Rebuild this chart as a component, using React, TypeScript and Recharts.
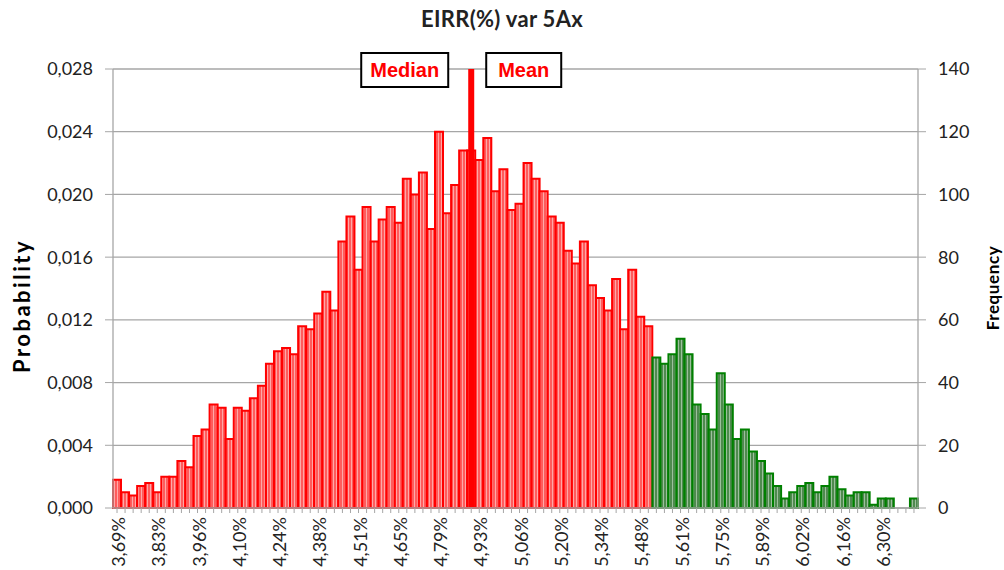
import React from 'react';
import { ComposedChart, Bar, Line, XAxis, YAxis, CartesianGrid, ReferenceLine, Cell } from 'recharts';

// Frequency per bin (100 bins, 5000 samples)
const counts: number[] = [
  9, 5, 4, 7, 8, 5, 10, 10, 15, 13, 23, 25, 33, 32, 22, 32, 31, 35, 39, 46, 50, 51, 49, 58,
  57, 62, 69, 63, 85, 93, 76, 96, 85, 92, 96, 91, 105, 100, 107, 89, 120, 94, 103, 114, 114, 111, 118,
  101, 108, 95, 97, 110, 105, 101, 93, 91, 82, 78, 85, 71, 67, 63, 73, 57, 76, 61, 58,
  48, 46, 49, 54,
  49, 33, 30, 25, 43, 33, 22, 25, 18, 15, 11, 7, 3, 5, 7, 8, 5, 7, 10, 6, 4, 5, 5, 1, 3, 3, 0, 0, 3,
];
const totalSamples = 5000;
// Tick labels shown every 5th bin
const tickLabels: string[] = [
  '3,69%', '3,83%', '3,96%', '4,10%', '4,24%', '4,38%', '4,51%', '4,65%', '4,79%', '4,93%',
  '5,06%', '5,20%', '5,34%', '5,48%', '5,61%', '5,75%', '5,89%', '6,02%', '6,16%', '6,30%',
];
const labelEvery = 5;
const greenFromBin = 67;
const medianMeanBin = 44;
const probTicks: number[] = [0, 0.004, 0.008, 0.012, 0.016, 0.02, 0.024, 0.028];
const freqTicks: number[] = [0, 20, 40, 60, 80, 100, 120, 140];

const data = counts.map((c, i) => ({ i, count: c, prob: c / totalSamples }));

const FONT = 'Lato, "Open Sans", sans-serif';
const BOX_FONT = '"Liberation Sans", Arial, sans-serif';

const XTick = (props: any) => {
  const { x, y, payload, index } = props;
  const idx = typeof index === 'number' ? index : payload.index;
  if (idx % labelEvery !== 0) return null;
  const label = tickLabels[idx / labelEvery];
  if (!label) return null;
  return (
    <g transform={`translate(${x + 1},${y + 2})`}>
      <text transform="rotate(-90)" textAnchor="end" dominantBaseline="central" fontSize={18} fill="#222" fontFamily={FONT}>
        {label}
      </text>
    </g>
  );
};

const MarkerLabels = (props: any) => {
  const vb = props.viewBox || {};
  const x = vb.x;
  const y = vb.y;
  if (x == null) return null;
  return (
    <g>
      <rect x={x - 110} y={y - 16} width={87} height={34} fill="#fff" stroke="#000" strokeWidth={2} />
      <text x={x - 66.5} y={y + 1} textAnchor="middle" dominantBaseline="central" fill="#ff0000" fontWeight="bold" fontSize={20} fontFamily={BOX_FONT}>
        Median
      </text>
      <rect x={x + 15} y={y - 16} width={75} height={34} fill="#fff" stroke="#000" strokeWidth={2} />
      <text x={x + 52.5} y={y + 1} textAnchor="middle" dominantBaseline="central" fill="#ff0000" fontWeight="bold" fontSize={20} fontFamily={BOX_FONT}>
        Mean
      </text>
    </g>
  );
};

export default function App() {
  return (
    <div style={{ position: 'absolute', left: 0, top: 0, width: 1004, height: 570, background: '#fff', fontFamily: FONT }}>
      <div style={{ position: 'absolute', left: 0, top: 5, width: 1004, textAlign: 'center', fontSize: 22, fontWeight: 'bold', color: '#222', letterSpacing: 0.3 }}>
        EIRR(%) var 5Ax
      </div>
      <div style={{ position: 'absolute', left: 22 - 100, top: 306 - 15, width: 200, height: 30, lineHeight: '30px', textAlign: 'center', transform: 'rotate(-90deg)', fontSize: 22, fontWeight: 'bold', color: '#000', letterSpacing: 2.5 }}>
        Probability
      </div>
      <div style={{ position: 'absolute', left: 993 - 100, top: 288 - 12, width: 200, height: 24, lineHeight: '24px', textAlign: 'center', transform: 'rotate(-90deg)', fontSize: 17, fontWeight: 'bold', color: '#000', letterSpacing: 0.6 }}>
        Frequency
      </div>
      <ComposedChart
        width={1004}
        height={570}
        data={data}
        margin={{ top: 69, right: 30, bottom: 0, left: 40 }}
        barCategoryGap={0}
        barGap={0}
      >
        <defs>
          <pattern id="redStripes" width="3" height="10" patternUnits="userSpaceOnUse">
            <rect width="3" height="10" fill="#ff5c5c" />
            <rect width="1" height="10" fill="#ffa8a8" />
          </pattern>
          <pattern id="greenStripes" width="3" height="10" patternUnits="userSpaceOnUse">
            <rect width="3" height="10" fill="#4f8a4f" />
            <rect width="1" height="10" fill="#9cc09c" />
          </pattern>
        </defs>
        <CartesianGrid vertical={false} stroke="#a6a6a6" strokeWidth={1.3} yAxisId="prob" />
        <XAxis
          dataKey="i"
          type="category"
          interval={0}
          height={62}
          tickSize={5}
          tickLine={{ stroke: '#a6a6a6' }}
          axisLine={{ stroke: '#a6a6a6', strokeWidth: 1.3 }}
          tick={<XTick />}
        />
        <YAxis
          yAxisId="prob"
          orientation="left"
          width={73}
          domain={[0, 0.028]}
          ticks={probTicks}
          interval={0}
          tickSize={8}
          tickMargin={12}
          tickLine={{ stroke: '#a6a6a6' }}
          axisLine={{ stroke: '#a6a6a6', strokeWidth: 1.3 }}
          tick={{ fontSize: 18, fill: '#222', fontFamily: FONT }}
          tickFormatter={(v: number) => v.toFixed(3).replace('.', ',')}
        />
        <YAxis
          yAxisId="freq"
          orientation="right"
          width={56}
          domain={[0, 140]}
          ticks={freqTicks}
          interval={0}
          tickSize={8}
          tickMargin={12}
          tickLine={{ stroke: '#a6a6a6' }}
          axisLine={{ stroke: '#a6a6a6', strokeWidth: 1.3 }}
          tick={{ fontSize: 18, fill: '#222', fontFamily: FONT, textAnchor: 'start' }}
        />
        <Bar dataKey="prob" yAxisId="prob" isAnimationActive={false} strokeWidth={2}>
          {data.map((d) => (
            <Cell
              key={d.i}
              fill={d.i >= greenFromBin ? 'url(#greenStripes)' : 'url(#redStripes)'}
              stroke={d.i >= greenFromBin ? '#008000' : '#ff0000'}
            />
          ))}
        </Bar>
        <Line dataKey="count" yAxisId="freq" stroke="none" dot={false} activeDot={false} isAnimationActive={false} legendType="none" />
        <ReferenceLine
          x={medianMeanBin}
          yAxisId="prob"
          stroke="#ff0000"
          strokeWidth={6}
          label={<MarkerLabels />}
        />
      </ComposedChart>
    </div>
  );
}
